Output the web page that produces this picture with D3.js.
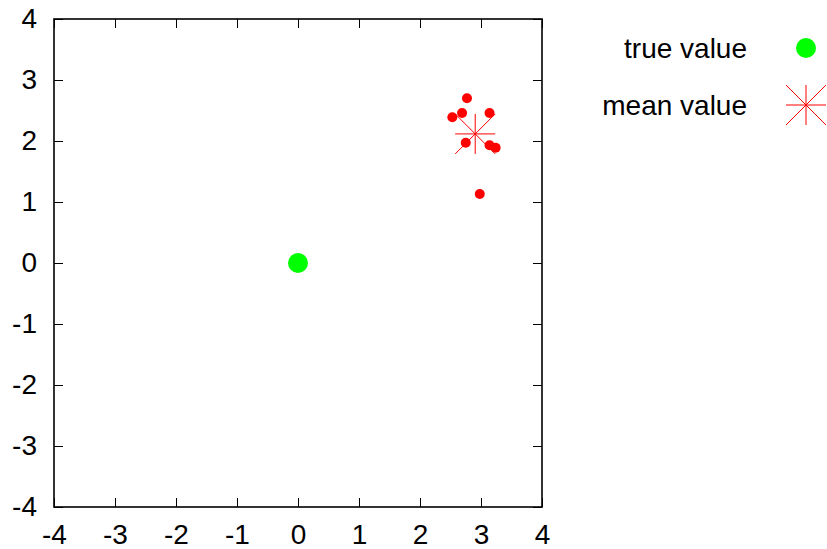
<!DOCTYPE html>
<html>
<head>
<meta charset="utf-8">
<script src="https://cdn.jsdelivr.net/npm/d3@7"></script>
<style>
  html, body { margin: 0; padding: 0; background: #fff; }
  svg { display: block; font-family: "Liberation Sans", Arial, Helvetica, sans-serif; }
</style>
</head>
<body>
<svg id="chart" width="827" height="549"></svg>
<script>
// Individual estimates (red dots)
const sampleX = [2.77, 2.69, 2.53, 3.14, 2.75, 3.14, 3.24, 2.98];
const sampleY = [2.70, 2.46, 2.39, 2.46, 1.97, 1.93, 1.89, 1.13];
// True value (green dot)
const trueX = [0];
const trueY = [0];
// Mean of the estimates (red asterisk)
const meanX = [d3.mean(sampleX)];
const meanY = [d3.mean(sampleY)];
// Axis ticks
const xTicks = [-4, -3, -2, -1, 0, 1, 2, 3, 4];
const yTicks = [-4, -3, -2, -1, 0, 1, 2, 3, 4];
// Legend entries
const legendLabels = ["true value", "mean value"];

const svg = d3.select("#chart");
const plotL = 54, plotR = 542, plotT = 19, plotB = 507;

const x = d3.scaleLinear().domain([-4, 4]).range([plotL, plotR]);
const y = d3.scaleLinear().domain([-4, 4]).range([plotB, plotT]);

const fontSize = 28;
const tickLen = 9;
const fmt = d => String(d); // plain hyphen-minus for negatives

function styleAxis(g, showLabels) {
  g.select(".domain").remove();
  g.selectAll(".tick line").attr("stroke", "#000").attr("stroke-width", 1);
  g.selectAll(".tick text")
    .attr("fill", "#000")
    .style("font-size", fontSize + "px")
    .style("font-family", "'Liberation Sans', Arial, sans-serif");
  if (!showLabels) g.selectAll(".tick text").remove();
}

svg.append("g").attr("transform", `translate(0,${plotB})`)
  .call(d3.axisBottom(x).tickValues(xTicks).tickSize(-tickLen).tickPadding(17).tickFormat(fmt))
  .call(g => styleAxis(g, true));
svg.append("g").attr("transform", `translate(0,${plotT})`)
  .call(d3.axisTop(x).tickValues(xTicks).tickSize(-tickLen))
  .call(g => styleAxis(g, false));
svg.append("g").attr("transform", `translate(${plotL},0)`)
  .call(d3.axisLeft(y).tickValues(yTicks).tickSize(-tickLen).tickPadding(17).tickFormat(fmt))
  .call(g => styleAxis(g, true));
svg.append("g").attr("transform", `translate(${plotR},0)`)
  .call(d3.axisRight(y).tickValues(yTicks).tickSize(-tickLen))
  .call(g => styleAxis(g, false));

// Plot border
svg.append("rect")
  .attr("x", plotL).attr("y", plotT)
  .attr("width", plotR - plotL).attr("height", plotB - plotT)
  .attr("fill", "none").attr("stroke", "#000").attr("stroke-width", 1.6);

// Asterisk symbol: plus and cross overlaid
function asterisk(g, cx, cy, h) {
  const segs = [
    [-h, 0, h, 0], [0, -h, 0, h],
    [-h, -h, h, h], [-h, h, h, -h]
  ];
  g.selectAll(null).data(segs).join("line")
    .attr("x1", d => cx + d[0]).attr("y1", d => cy + d[1])
    .attr("x2", d => cx + d[2]).attr("y2", d => cy + d[3])
    .attr("stroke", "#ff0000").attr("stroke-width", 1);
}

// True value
svg.append("g").selectAll("circle")
  .data(d3.zip(trueX, trueY)).join("circle")
  .attr("cx", d => x(d[0])).attr("cy", d => y(d[1]))
  .attr("r", 10).attr("fill", "#00ff00");

// Sample estimates
svg.append("g").selectAll("circle")
  .data(d3.zip(sampleX, sampleY)).join("circle")
  .attr("cx", d => x(d[0])).attr("cy", d => y(d[1]))
  .attr("r", 5).attr("fill", "#ff0000");

// Mean
const meanG = svg.append("g");
d3.zip(meanX, meanY).forEach(d => asterisk(meanG, x(d[0]), y(d[1]), 20));

// Legend
const legend = svg.append("g");
const legendY = [48, 105];
legend.selectAll("text").data(legendLabels).join("text")
  .attr("x", 747).attr("y", (d, i) => legendY[i])
  .attr("dy", "0.35em")
  .attr("text-anchor", "end")
  .style("font-size", fontSize + "px")
  .attr("fill", "#000")
  .text(d => d);
legend.append("circle").attr("cx", 806).attr("cy", legendY[0]).attr("r", 10).attr("fill", "#00ff00");
asterisk(legend, 806, legendY[1], 20);
</script>
</body>
</html>
